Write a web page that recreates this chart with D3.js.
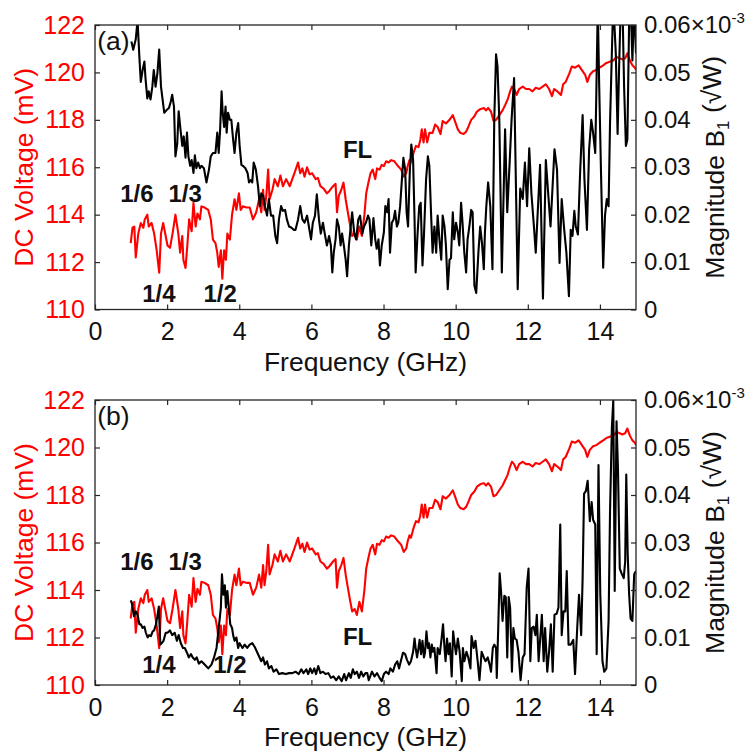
<!DOCTYPE html>
<html><head><meta charset="utf-8">
<script src="https://cdn.jsdelivr.net/npm/d3@7"></script>
<style>
body{margin:0;background:#fff}
svg{display:block}
text{font-family:"Liberation Sans",Arial,Helvetica,sans-serif}
</style>
</head><body>
<svg id="c" width="750" height="751"></svg>
<script>
// ---- Data ----
const xTicks = [0,2,4,6,8,10,12,14];
const leftTicks = [110,112,114,116,118,120,122];
const rightTicks = [0,0.01,0.02,0.03,0.04,0.05,0.06];

// DC voltage (mV), same in both panels
const dcFreq = [0.99,1.04,1.09,1.13,1.20,1.27,1.34,1.38,1.45,1.49,1.57,1.64,1.71,1.78,1.83,1.89,1.96,2.01,2.08,2.15,2.23,2.31,2.36,2.42,2.45,2.51,2.56,2.61,2.68,2.73,2.79,2.84,2.91,2.95,3.04,3.14,3.21,3.27,3.34,3.39,3.43,3.49,3.53,3.58,3.63,3.67,3.74,3.80,3.87,3.92,3.99,4.04,4.10,4.20,4.29,4.38,4.47,4.55,4.61,4.66,4.70,4.75,4.80,4.84,4.92,4.98,5.07,5.14,5.21,5.30,5.40,5.47,5.53,5.63,5.69,5.75,5.81,5.88,5.95,6.02,6.12,6.18,6.25,6.34,6.43,6.50,6.60,6.67,6.71,6.76,6.83,6.89,6.95,7.01,7.08,7.13,7.20,7.26,7.33,7.40,7.47,7.52,7.58,7.64,7.70,7.77,7.82,7.89,7.95,8.01,8.07,8.14,8.21,8.30,8.40,8.49,8.56,8.63,8.67,8.72,8.76,8.84,8.90,8.97,9.02,9.06,9.11,9.15,9.21,9.27,9.36,9.43,9.50,9.58,9.64,9.73,9.83,9.92,9.98,10.06,10.13,10.22,10.29,10.35,10.43,10.52,10.59,10.68,10.78,10.84,10.90,10.98,11.05,11.12,11.21,11.30,11.38,11.44,11.51,11.56,11.62,11.69,11.76,11.86,11.95,12.04,12.13,12.22,12.32,12.41,12.50,12.59,12.67,12.73,12.82,12.92,12.98,13.05,13.15,13.22,13.31,13.41,13.50,13.59,13.65,13.72,13.81,13.90,13.99,14.09,14.18,14.27,14.37,14.46,14.55,14.62,14.70,14.76,14.83,14.90,14.97,15.00];
const dcVolt = [112.8,113.45,113.5,112.2,113.2,113.65,113.45,113.8,114.0,113.5,113.65,113.2,112.5,111.55,113.2,113.65,113.1,112.7,112.6,113.2,114.0,113.2,112.4,113.1,112.1,111.75,112.7,113.8,113.3,114.5,113.5,114.05,113.8,114.35,114.3,114.2,113.8,112.95,112.8,112.4,111.8,112.5,111.3,112.5,112.1,113.2,112.95,114.0,114.65,114.2,114.9,114.2,114.35,114.3,114.3,113.8,114.1,114.65,114.1,115.05,114.2,114.8,115.9,114.65,115.05,115.5,115.2,115.65,115.2,115.5,115.2,115.5,115.75,116.2,115.75,115.95,115.6,116.0,115.7,115.75,115.5,115.55,115.2,115.1,114.9,115.0,115.2,115.3,114.1,114.8,115.05,115.35,114.65,114.1,113.5,113.1,113.2,112.95,113.5,113.1,114.0,114.9,115.35,115.75,115.9,115.5,115.95,115.9,116.1,116.05,116.25,116.2,116.3,116.25,116.05,115.9,115.6,115.75,116.05,116.3,116.2,116.65,116.9,116.85,117.15,117.6,117.05,117.6,117.05,117.45,117.45,117.8,117.7,117.4,117.95,117.85,118.0,118.2,117.95,117.6,117.45,117.4,117.5,117.7,118.0,118.15,118.35,118.45,118.5,118.4,118.5,118.35,117.95,118.0,118.2,118.4,118.65,118.85,119.2,119.4,119.3,119.05,119.3,119.4,119.3,119.3,119.2,119.35,119.3,119.4,119.5,119.3,119.0,119.3,119.2,119.05,119.5,119.6,119.95,120.25,120.2,120.3,120.1,119.9,119.6,119.9,120.05,120.1,120.2,120.3,120.4,120.45,120.5,120.65,120.6,120.55,120.6,120.8,120.5,120.3,120.2,120.1];

// Magnitude B1 (x10^-3 sqrt(W)), panel (a)
const magAFreq = [1.01,1.06,1.13,1.18,1.23,1.27,1.32,1.37,1.40,1.45,1.49,1.54,1.59,1.63,1.68,1.73,1.78,1.83,1.87,1.92,1.98,2.05,2.10,2.14,2.19,2.23,2.28,2.32,2.37,2.42,2.46,2.51,2.55,2.59,2.64,2.68,2.73,2.77,2.81,2.86,2.91,2.95,3.02,3.09,3.16,3.21,3.27,3.34,3.39,3.43,3.47,3.51,3.54,3.58,3.62,3.65,3.69,3.74,3.78,3.83,3.87,3.92,3.97,4.01,4.06,4.10,4.17,4.23,4.27,4.32,4.36,4.40,4.46,4.52,4.57,4.61,4.66,4.71,4.77,4.82,4.88,4.94,5.00,5.05,5.10,5.16,5.21,5.27,5.32,5.38,5.44,5.51,5.56,5.63,5.69,5.75,5.81,5.88,5.93,5.99,6.04,6.10,6.15,6.21,6.26,6.32,6.37,6.43,6.49,6.54,6.58,6.62,6.67,6.71,6.76,6.81,6.85,6.90,6.95,6.99,7.04,7.09,7.13,7.19,7.24,7.30,7.35,7.41,7.46,7.52,7.57,7.61,7.66,7.72,7.77,7.81,7.86,7.90,7.95,8.01,8.05,8.10,8.14,8.18,8.23,8.28,8.32,8.37,8.41,8.46,8.51,8.55,8.60,8.64,8.68,8.73,8.77,8.82,8.86,8.89,8.94,8.99,9.03,9.08,9.12,9.18,9.23,9.27,9.32,9.36,9.41,9.46,9.50,9.55,9.60,9.64,9.69,9.73,9.78,9.83,9.87,9.92,9.96,10.01,10.06,10.10,10.15,10.19,10.24,10.29,10.33,10.38,10.43,10.47,10.52,10.57,10.63,10.68,10.73,10.78,10.81,10.85,10.90,10.96,11.02,11.07,11.12,11.16,11.21,11.28,11.37,11.43,11.50,11.55,11.62,11.72,11.79,11.86,11.92,11.98,12.04,12.10,12.17,12.22,12.34,12.42,12.50,12.57,12.63,12.74,12.81,12.88,12.94,13.01,13.07,13.14,13.19,13.24,13.29,13.33,13.39,13.45,13.52,13.57,13.64,13.70,13.76,13.81,13.87,13.90,13.94,13.98,14.03,14.09,14.14,14.19,14.24,14.28,14.33,14.37,14.44,14.49,14.53,14.58,14.62,14.67,14.72,14.76,14.81,14.85,14.90,14.95,15.00];
const magA = [0.0565,0.0548,0.0570,0.0610,0.0533,0.0480,0.0505,0.0523,0.0488,0.0445,0.0460,0.0443,0.0470,0.0505,0.0470,0.0498,0.0548,0.0470,0.0445,0.0415,0.0420,0.0425,0.0438,0.0453,0.0428,0.0323,0.0350,0.0418,0.0380,0.0345,0.0365,0.0320,0.0373,0.0323,0.0303,0.0315,0.0288,0.0325,0.0298,0.0310,0.0298,0.0303,0.0298,0.0268,0.0295,0.0323,0.0330,0.0330,0.0373,0.0330,0.0380,0.0460,0.0415,0.0385,0.0428,0.0373,0.0415,0.0400,0.0400,0.0358,0.0330,0.0373,0.0393,0.0345,0.0305,0.0303,0.0298,0.0288,0.0268,0.0273,0.0268,0.0310,0.0295,0.0260,0.0218,0.0245,0.0240,0.0218,0.0198,0.0233,0.0198,0.0198,0.0155,0.0140,0.0190,0.0218,0.0208,0.0210,0.0190,0.0175,0.0173,0.0168,0.0168,0.0190,0.0218,0.0190,0.0183,0.0198,0.0175,0.0148,0.0183,0.0198,0.0243,0.0190,0.0160,0.0183,0.0160,0.0135,0.0155,0.0135,0.0078,0.0120,0.0148,0.0190,0.0175,0.0135,0.0160,0.0135,0.0105,0.0070,0.0135,0.0175,0.0205,0.0160,0.0148,0.0190,0.0198,0.0160,0.0175,0.0185,0.0198,0.0190,0.0135,0.0193,0.0148,0.0128,0.0148,0.0093,0.0135,0.0163,0.0218,0.0205,0.0233,0.0120,0.0183,0.0190,0.0208,0.0175,0.0183,0.0218,0.0275,0.0320,0.0295,0.0205,0.0175,0.0295,0.0348,0.0315,0.0190,0.0078,0.0155,0.0218,0.0225,0.0093,0.0155,0.0275,0.0323,0.0303,0.0198,0.0120,0.0175,0.0120,0.0198,0.0148,0.0105,0.0198,0.0175,0.0135,0.0043,0.0105,0.0108,0.0205,0.0148,0.0183,0.0163,0.0135,0.0225,0.0183,0.0120,0.0078,0.0148,0.0175,0.0210,0.0205,0.0050,0.0035,0.0120,0.0175,0.0140,0.0085,0.0160,0.0218,0.0268,0.0218,0.0085,0.0400,0.0538,0.0513,0.0400,0.0078,0.0380,0.0205,0.0315,0.0400,0.0488,0.0043,0.0255,0.0233,0.0310,0.0218,0.0340,0.0245,0.0175,0.0120,0.0305,0.0023,0.0315,0.0240,0.0175,0.0338,0.0295,0.0098,0.0233,0.0168,0.0120,0.0028,0.0168,0.0155,0.0208,0.0175,0.0158,0.0288,0.0410,0.0275,0.0168,0.0338,0.0400,0.0373,0.0330,0.0455,0.0640,0.0470,0.0288,0.0088,0.0198,0.0233,0.0218,0.0393,0.0540,0.0650,0.0540,0.0370,0.0505,0.0650,0.0660,0.0470,0.0345,0.0358,0.0610,0.0650,0.0525,0.0640,0.0540];

// Magnitude B1 (x10^-3 sqrt(W)), panel (b)
const magBFreq = [0.99,1.03,1.08,1.13,1.18,1.23,1.27,1.32,1.37,1.41,1.46,1.50,1.55,1.60,1.64,1.69,1.73,1.77,1.81,1.85,1.90,1.96,2.01,2.08,2.14,2.21,2.27,2.32,2.38,2.44,2.49,2.55,2.60,2.66,2.71,2.77,2.82,2.88,2.95,3.04,3.14,3.23,3.30,3.37,3.43,3.49,3.52,3.56,3.60,3.63,3.67,3.71,3.75,3.80,3.83,3.87,3.92,3.97,4.01,4.09,4.15,4.22,4.29,4.36,4.43,4.49,4.55,4.61,4.66,4.71,4.77,4.82,4.89,4.95,5.03,5.10,5.19,5.29,5.38,5.47,5.56,5.65,5.72,5.78,5.86,5.91,5.97,6.02,6.08,6.13,6.19,6.25,6.32,6.39,6.47,6.54,6.61,6.69,6.76,6.84,6.91,6.96,7.04,7.09,7.15,7.20,7.26,7.32,7.38,7.44,7.50,7.55,7.59,7.68,7.75,7.82,7.89,7.95,8.01,8.07,8.14,8.19,8.26,8.32,8.38,8.43,8.49,8.54,8.60,8.65,8.71,8.76,8.82,8.86,8.89,8.93,8.97,9.00,9.04,9.08,9.12,9.15,9.19,9.23,9.26,9.30,9.34,9.37,9.41,9.47,9.50,9.56,9.61,9.65,9.69,9.72,9.76,9.80,9.84,9.89,9.93,9.96,10.01,10.06,10.11,10.17,10.20,10.24,10.30,10.35,10.41,10.44,10.50,10.55,10.61,10.66,10.72,10.78,10.83,10.89,10.94,10.98,11.03,11.07,11.12,11.14,11.18,11.22,11.26,11.30,11.35,11.39,11.43,11.47,11.51,11.56,11.60,11.64,11.69,11.74,11.80,11.86,11.91,11.97,12.02,12.07,12.11,12.16,12.21,12.25,12.30,12.34,12.39,12.44,12.48,12.54,12.59,12.64,12.69,12.74,12.80,12.85,12.90,12.94,12.99,13.04,13.08,13.13,13.19,13.26,13.31,13.37,13.42,13.48,13.52,13.56,13.61,13.66,13.72,13.77,13.81,13.87,13.91,13.96,14.01,14.07,14.12,14.18,14.24,14.28,14.33,14.37,14.41,14.46,14.50,14.55,14.60,14.66,14.70,14.73,14.77,14.81,14.85,14.90,14.95,15.00];
const magB = [0.0178,0.0170,0.0145,0.0155,0.0148,0.0128,0.0128,0.0120,0.0123,0.0110,0.0100,0.0105,0.0103,0.0113,0.0115,0.0128,0.0145,0.0165,0.0085,0.0088,0.0093,0.0110,0.0110,0.0115,0.0105,0.0110,0.0093,0.0105,0.0088,0.0078,0.0078,0.0068,0.0058,0.0065,0.0058,0.0053,0.0058,0.0045,0.0050,0.0043,0.0035,0.0043,0.0058,0.0078,0.0120,0.0163,0.0233,0.0190,0.0210,0.0163,0.0198,0.0163,0.0128,0.0120,0.0105,0.0093,0.0100,0.0078,0.0088,0.0078,0.0085,0.0078,0.0085,0.0088,0.0080,0.0070,0.0060,0.0050,0.0058,0.0043,0.0050,0.0035,0.0040,0.0028,0.0033,0.0023,0.0025,0.0023,0.0025,0.0025,0.0028,0.0023,0.0033,0.0025,0.0033,0.0023,0.0035,0.0025,0.0035,0.0023,0.0040,0.0025,0.0028,0.0023,0.0025,0.0015,0.0018,0.0010,0.0018,0.0008,0.0023,0.0010,0.0025,0.0015,0.0033,0.0023,0.0028,0.0015,0.0028,0.0018,0.0025,0.0025,0.0010,0.0028,0.0018,0.0025,0.0015,0.0008,0.0023,0.0028,0.0023,0.0035,0.0028,0.0043,0.0050,0.0035,0.0053,0.0068,0.0065,0.0053,0.0043,0.0050,0.0070,0.0098,0.0078,0.0058,0.0078,0.0095,0.0065,0.0093,0.0058,0.0068,0.0113,0.0078,0.0088,0.0058,0.0085,0.0070,0.0078,0.0025,0.0078,0.0065,0.0098,0.0128,0.0078,0.0050,0.0098,0.0065,0.0088,0.0018,0.0113,0.0093,0.0065,0.0098,0.0070,0.0008,0.0078,0.0050,0.0070,0.0058,0.0035,0.0103,0.0078,0.0093,0.0050,0.0010,0.0070,0.0058,0.0050,0.0058,0.0043,0.0028,0.0078,0.0085,0.0078,0.0015,0.0120,0.0235,0.0195,0.0135,0.0188,0.0185,0.0058,0.0185,0.0163,0.0028,0.0120,0.0098,0.0095,0.0070,0.0010,0.0058,0.0065,0.0205,0.0245,0.0050,0.0120,0.0123,0.0105,0.0148,0.0050,0.0093,0.0148,0.0050,0.0120,0.0028,0.0070,0.0128,0.0028,0.0148,0.0150,0.0163,0.0338,0.0105,0.0155,0.0155,0.0240,0.0085,0.0085,0.0095,0.0023,0.0120,0.0190,0.0105,0.0225,0.0403,0.0408,0.0430,0.0345,0.0385,0.0348,0.0338,0.0065,0.0463,0.0190,0.0050,0.0028,0.0035,0.0135,0.0365,0.0540,0.0600,0.0198,0.0555,0.0455,0.0245,0.0235,0.0225,0.0260,0.0443,0.0275,0.0190,0.0140,0.0135,0.0233,0.0240];

// Annotations (data coordinates: frequency, DC voltage)
const annA = [{t:"1/6",f:1.16,v:114.53},{t:"1/3",f:2.50,v:114.53},{t:"1/4",f:1.77,v:110.32},{t:"1/2",f:3.47,v:110.32},{t:"FL",f:7.28,v:116.39}];
const annB = [{t:"1/6",f:1.16,v:114.84},{t:"1/3",f:2.50,v:114.84},{t:"1/4",f:1.77,v:110.5},{t:"1/2",f:3.74,v:110.5},{t:"FL",f:7.28,v:111.68}];

// ---- Drawing ----
const svg = d3.select("#c");
const X0 = 95, X1 = 636;
const x = d3.scaleLinear().domain([0,15]).range([X0,X1]);
const FS = 26.5;     // axis titles
const TFS = 25;      // left / bottom tick labels
const RFS = 24;      // right tick labels
const AX = "#262626";

const panels = [
  {y0:25, y1:309.5, mag:[magAFreq,magA], tag:"(a)", ann:annA, xlabOff:61, id:"a"},
  {y0:400, y1:685, mag:[magBFreq,magB], tag:"(b)", ann:annB, xlabOff:60.5, id:"b"}
];

panels.forEach(p=>{
  const yL = d3.scaleLinear().domain([110,122]).range([p.y1,p.y0]);
  const yR = d3.scaleLinear().domain([0,0.06]).range([p.y1,p.y0]);
  const g = svg.append("g");

  g.append("clipPath").attr("id","clip"+p.id).append("rect")
    .attr("x",X0).attr("y",p.y0).attr("width",X1-X0).attr("height",p.y1-p.y0);

  // red DC voltage
  const lineL = d3.line().x((d,i)=>x(dcFreq[i])).y(d=>yL(d));
  g.append("path").datum(dcVolt).attr("d",lineL).attr("fill","none")
    .attr("stroke","#ff0000").attr("stroke-width",2.1).attr("stroke-linejoin","round")
    .attr("clip-path","url(#clip"+p.id+")");

  // black magnitude
  const fr = p.mag[0];
  const lineR = d3.line().x((d,i)=>x(fr[i])).y(d=>yR(d));
  g.append("path").datum(p.mag[1]).attr("d",lineR).attr("fill","none")
    .attr("stroke","#000").attr("stroke-width",2.1).attr("stroke-linejoin","round")
    .attr("clip-path","url(#clip"+p.id+")");

  // frame
  g.append("rect").attr("x",X0).attr("y",p.y0).attr("width",X1-X0).attr("height",p.y1-p.y0)
    .attr("fill","none").attr("stroke",AX).attr("stroke-width",1.3);

  // axes
  const bottom = g.append("g").attr("transform",`translate(0,${p.y1})`)
    .call(d3.axisBottom(x).tickValues(xTicks).tickSize(-5).tickPadding(13).tickFormat(d3.format("d")));
  const top = g.append("g").attr("transform",`translate(0,${p.y0})`)
    .call(d3.axisTop(x).tickValues(xTicks).tickSize(-5).tickFormat(""));
  const left = g.append("g").attr("transform",`translate(${X0},0)`)
    .call(d3.axisLeft(yL).tickValues(leftTicks).tickSize(-5).tickPadding(10).tickFormat(d3.format("d")));
  const right = g.append("g").attr("transform",`translate(${X1},0)`)
    .call(d3.axisRight(yR).tickValues(rightTicks).tickSize(-5).tickPadding(8)
      .tickFormat(d=> d===0 ? "0" : d.toFixed(2)));
  [bottom,top,left,right].forEach(a=>{
    a.select(".domain").remove();
    a.selectAll("line").attr("stroke",AX).attr("stroke-width",1.2);
    a.selectAll("text").attr("font-family",'"Liberation Sans",Arial,sans-serif');
  });
  bottom.selectAll("text").attr("fill","#111").attr("font-size",TFS);
  left.selectAll("text").attr("fill","#ff0000").attr("font-size",TFS);
  right.selectAll("text").attr("fill","#111").attr("font-size",RFS);
  // exponent on top right tick
  right.selectAll(".tick").filter(d=>Math.abs(d-0.06)<1e-9).select("text")
    .call(t=>{
      t.append("tspan").text("\u00d710");
      t.append("tspan").text("-3").attr("font-size",15).attr("dy","-0.7em");
    });

  // axis labels
  g.append("text").attr("x",(X0+X1)/2).attr("y",p.y1+p.xlabOff)
    .attr("text-anchor","middle").attr("font-size",FS).attr("fill","#111").text("Frequency (GHz)");
  g.append("text").attr("transform",`translate(33,${(p.y0+p.y1)/2}) rotate(-90)`)
    .attr("text-anchor","middle").attr("font-size",FS).attr("fill","#ff0000").text("DC Voltage (mV)");
  const rl = g.append("text").attr("transform",`translate(724,${(p.y0+p.y1)/2}) rotate(-90)`)
    .attr("text-anchor","middle").attr("font-size",FS).attr("fill","#111");
  rl.append("tspan").text("Magnitude B");
  rl.append("tspan").text("1").attr("font-size",17).attr("dy","0.3em");
  rl.append("tspan").text(" (\u221aW)").attr("dy","-0.3em").attr("font-size",FS);

  // panel tag
  g.append("text").attr("x",x(0.06)).attr("y",yL(120.95)).attr("font-size",FS).attr("fill","#111").text(p.tag);

  // annotations
  g.selectAll("text.ann").data(p.ann).enter().append("text").attr("class","ann")
    .attr("x",d=>x(d.f)).attr("y",d=>yL(d.v)).attr("text-anchor","middle")
    .attr("font-size",24).attr("font-weight","bold").attr("fill","#111").text(d=>d.t);
});
</script>
</body></html>
